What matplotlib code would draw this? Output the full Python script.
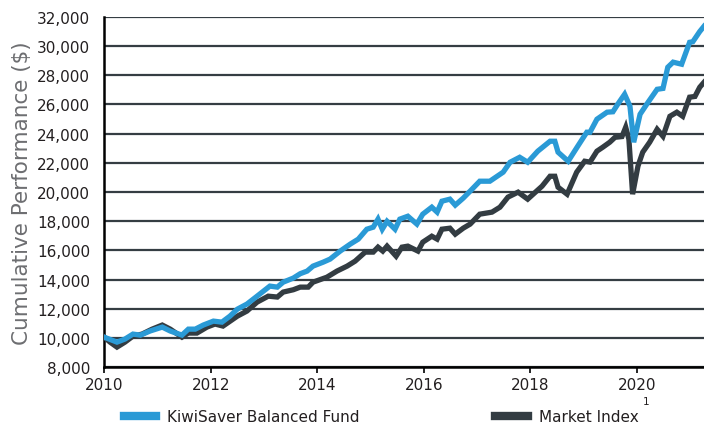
import matplotlib
matplotlib.use("Agg")
import matplotlib.pyplot as plt
from matplotlib.lines import Line2D
from matplotlib.ticker import FuncFormatter

plt.rcParams['font.family'] = ['DejaVu Sans']

# Valeurs (année décimale, $)
fund_years = [2010.00, 2010.24, 2010.39, 2010.54, 2010.68, 2010.86, 2011.09, 2011.24, 2011.46, 2011.58,
              2011.71, 2011.86, 2012.05, 2012.21, 2012.36, 2012.50, 2012.68, 2012.87, 2013.11, 2013.25,
              2013.36, 2013.55, 2013.68, 2013.81, 2013.92, 2014.11, 2014.24, 2014.43, 2014.62, 2014.77,
              2014.93, 2015.05, 2015.14, 2015.22, 2015.31, 2015.46, 2015.55, 2015.70, 2015.87, 2015.98,
              2016.15, 2016.25, 2016.34, 2016.49, 2016.59, 2016.74, 2016.87, 2017.05, 2017.24, 2017.49,
              2017.62, 2017.80, 2017.95, 2018.14, 2018.37, 2018.46, 2018.52, 2018.71, 2018.89, 2019.06,
              2019.12, 2019.25, 2019.44, 2019.55, 2019.64, 2019.77, 2019.87, 2019.94, 2020.06, 2020.21,
              2020.38, 2020.49, 2020.58, 2020.68, 2020.84, 2020.99, 2021.05, 2021.18, 2021.26]
fund_values = [10050, 9710, 9920, 10260, 10190, 10470, 10740, 10470, 10190, 10600,
               10600, 10880, 11150, 11080, 11490, 11970, 12320, 12860, 13550, 13480,
               13820, 14100, 14400, 14580, 14920, 15190, 15400, 15950, 16430, 16770,
               17450, 17590, 18140, 17450, 17990, 17450, 18140, 18340, 17800, 18480,
               18960, 18620, 19370, 19510, 19100, 19580, 20060, 20740, 20740, 21360,
               22040, 22380, 22040, 22800, 23480, 23480, 22730, 22110, 23140, 24100,
               24100, 24990, 25470, 25500, 26015, 26700, 25880, 23410, 25330, 26150,
               27040, 27100, 28550, 28900, 28760, 30260, 30300, 31000, 31360]

index_years = [2010.00, 2010.11, 2010.24, 2010.39, 2010.54, 2010.71, 2010.90, 2011.09, 2011.24, 2011.46,
               2011.58, 2011.74, 2011.93, 2012.08, 2012.23, 2012.50, 2012.68, 2012.87, 2013.08, 2013.25,
               2013.36, 2013.55, 2013.68, 2013.83, 2013.92, 2014.18, 2014.37, 2014.56, 2014.71, 2014.90,
               2015.05, 2015.14, 2015.23, 2015.31, 2015.48, 2015.59, 2015.70, 2015.89, 2015.98, 2016.15,
               2016.25, 2016.34, 2016.49, 2016.59, 2016.74, 2016.87, 2017.05, 2017.28, 2017.43, 2017.58,
               2017.77, 2017.95, 2018.22, 2018.37, 2018.46, 2018.52, 2018.69, 2018.87, 2019.02, 2019.12,
               2019.25, 2019.36, 2019.49, 2019.59, 2019.72, 2019.79, 2019.85, 2019.92, 2020.02, 2020.11,
               2020.24, 2020.38, 2020.49, 2020.62, 2020.75, 2020.86, 2020.99, 2021.09, 2021.18, 2021.26]
index_values = [10050, 9710, 9370, 9710, 10120, 10260, 10600, 10880, 10600, 10050,
                10330, 10330, 10740, 10950, 10810, 11490, 11840, 12450, 12860, 12800,
                13140, 13300, 13480, 13480, 13820, 14160, 14580, 14920, 15260, 15880,
                15880, 16220, 15950, 16290, 15600, 16220, 16290, 15950, 16560, 16970,
                16770, 17450, 17520, 17110, 17520, 17800, 18480, 18620, 18960, 19650,
                19990, 19510, 20400, 21080, 21080, 20330, 19850, 21360, 22110, 22050,
                22800, 23070, 23410, 23750, 23800, 24440, 23620, 19850, 21770, 22730,
                23410, 24300, 23820, 25190, 25470, 25190, 26500, 26550, 27180, 27520]

series_labels = ["KiwiSaver Balanced Fund", "Market Index"]
year_ticks = [2010, 2012, 2014, 2016, 2018, 2020]
value_ticks = list(range(8000, 32001, 2000))

blue = "#2a9ad6"
dark = "#333c42"
grid_col = "#353d43"
text_col = "#231f20"

fig = plt.figure(figsize=(7.04, 4.27), dpi=100)
ax = fig.add_axes([0.148, 0.138, 0.852, 0.820])

ax.plot(index_years, index_values, color=dark, lw=3.8, solid_joinstyle='miter', zorder=3)
ax.plot(fund_years, fund_values, color=blue, lw=3.8, solid_joinstyle='miter', zorder=4)

ax.set_xlim(2010, 2021.26)
ax.set_ylim(8000, 32000)
ax.set_xticks(year_ticks)
ax.set_yticks(value_ticks)
ax.yaxis.set_major_formatter(FuncFormatter(lambda v, p: f"{int(v):,}"))

ax.grid(axis='y', color=grid_col, lw=1.6)
ax.set_axisbelow(True)
for s in ['top', 'right']:
    ax.spines[s].set_visible(False)
ax.spines['left'].set_color('black')
ax.spines['left'].set_linewidth(1.8)
ax.spines['bottom'].set_color('black')
ax.spines['bottom'].set_linewidth(1.8)

ax.tick_params(axis='y', length=0, pad=10, labelsize=11, labelcolor=text_col)
ax.tick_params(axis='x', length=4, width=1.2, pad=3, labelsize=11, labelcolor=text_col)

ax.set_ylabel("Cumulative Performance ($)", fontsize=15.5, color="#6d6e71", labelpad=4)

handles = [Line2D([], [], color=blue, lw=6), Line2D([], [], color=dark, lw=6)]
leg = fig.legend(handles, series_labels, loc='lower left', bbox_to_anchor=(0.176, 0.004),
                 ncol=2, frameon=False, fontsize=11, handlelength=2.1, handletextpad=0.72,
                 columnspacing=8.9, borderpad=0, borderaxespad=0)
for t in leg.get_texts():
    t.set_color(text_col)

# exposant "1" après Market Index
fig.canvas.draw()
bb = leg.get_texts()[1].get_window_extent().transformed(fig.transFigure.inverted())
fig.text(bb.x1 + 0.006, bb.y1 + 0.008, "1", fontsize=7.5, color=text_col, ha='left', va='bottom')

fig.savefig("out.png", dpi=100)
